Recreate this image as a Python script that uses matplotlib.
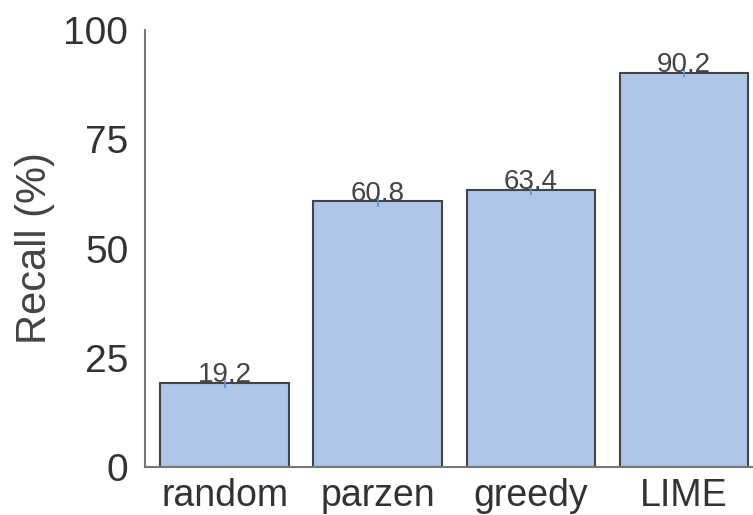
import matplotlib
matplotlib.use("Agg")
import matplotlib.pyplot as plt
import numpy as np

methods = ["random", "parzen", "greedy", "LIME"]
recall = [19.2, 60.8, 63.4, 90.2]
err = [1.2, 1.2, 1.2, 1.0]
yticks = [0, 25, 50, 75, 100]

plt.rcParams['font.family'] = ['Liberation Sans', 'DejaVu Sans']

fig = plt.figure(figsize=(7.53, 5.15), dpi=100)
ax = fig.add_axes([0.1926, 0.0932, 0.8074, 0.8485])

x = np.arange(len(methods))
ax.bar(x, recall, width=0.84, color="#aec7e8", edgecolor="#444444", linewidth=1.5)
ax.errorbar(x, recall, yerr=err, fmt="none", ecolor="#5b8fd6", elinewidth=1.2)

for xi, v in zip(x, recall):
    ax.text(xi, v - 1.2, "%.1f" % v, ha="center", va="bottom", fontsize=20, color="#444444")

ax.set_xlim(-0.52, 3.45)
ax.set_ylim(0, 100)
ax.set_yticks(yticks)
ax.set_xticks(x)
ax.set_xticklabels(methods)
ax.tick_params(axis="y", labelsize=28, colors="#333333", length=0, pad=12)
ax.tick_params(axis="x", labelsize=27, colors="#333333", length=0, pad=8)
ax.set_ylabel("Recall (%)", fontsize=30, color="#444444", va="center")
ax.yaxis.set_label_coords(-0.181, 0.5)

for s in ["top", "right"]:
    ax.spines[s].set_visible(False)
for s in ["left", "bottom"]:
    ax.spines[s].set_color("#777777")
    ax.spines[s].set_linewidth(1.5)

fig.savefig("out.png", dpi=100)
